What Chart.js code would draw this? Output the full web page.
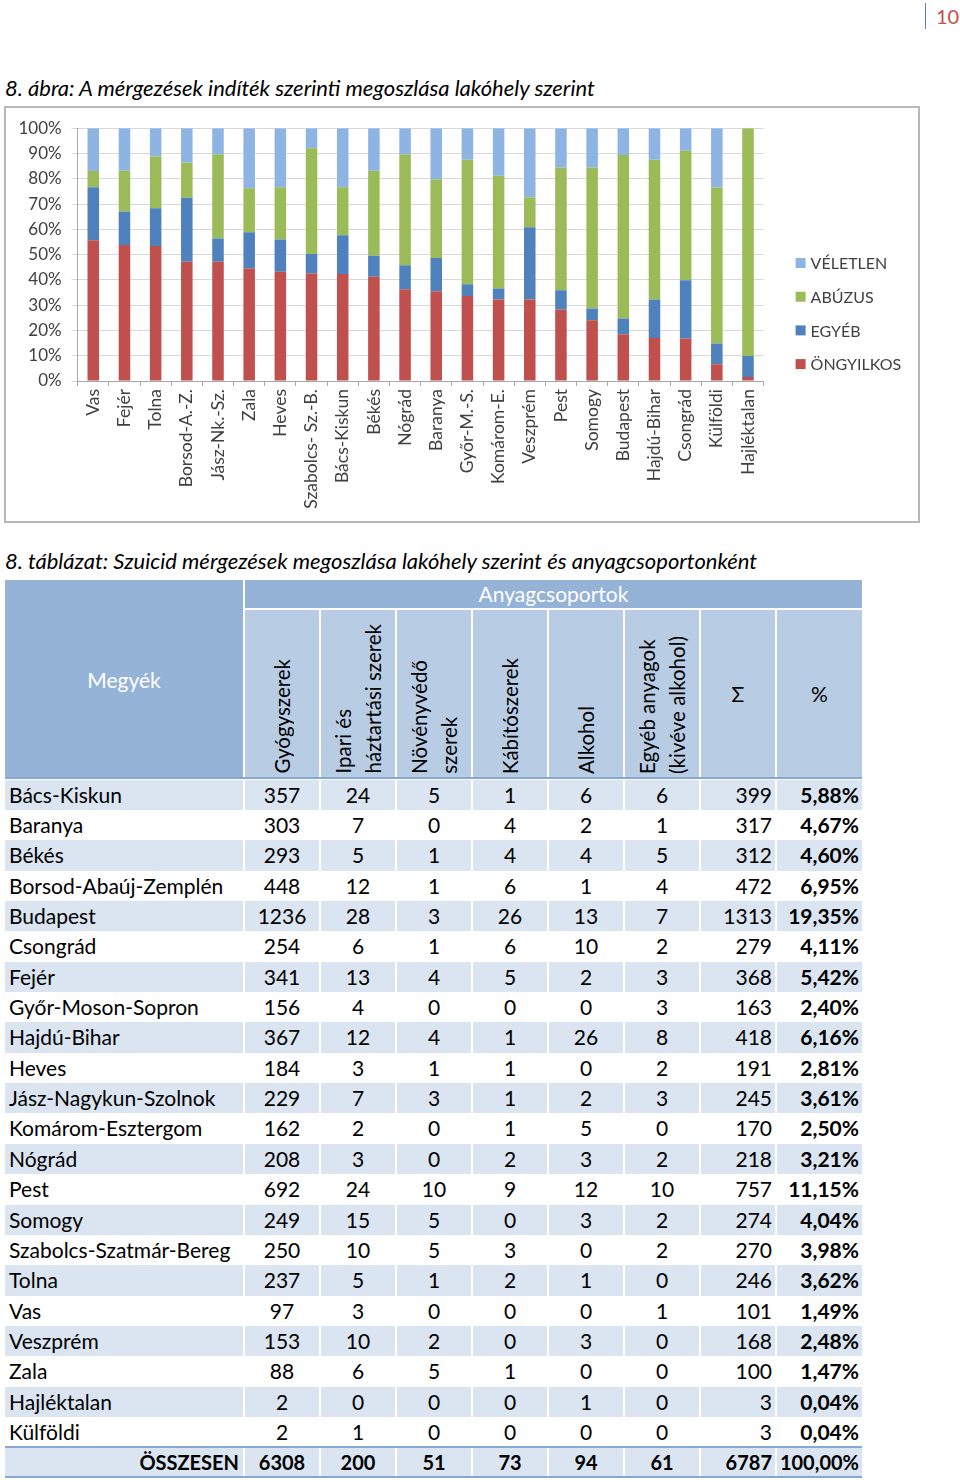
<!DOCTYPE html>
<html><head><meta charset="utf-8">
<script src="https://cdn.jsdelivr.net/npm/chart.js@4.4.1/dist/chart.umd.min.js"></script>
<style>
html,body{margin:0;padding:0;background:#fff;}
body{width:960px;height:1482px;position:relative;overflow:hidden;font-family:Lato,"Open Sans",sans-serif;color:#000;}
.abs{position:absolute;white-space:nowrap;}
#pnum{left:936px;top:3px;font-size:20px;color:#C0504D;line-height:26px;}
#pline{left:925px;top:3px;width:1px;height:26px;background:#4F81BD;}
.cap{left:5px;font-style:italic;font-size:22px;line-height:26px;}
#chartbox{left:4px;top:106px;width:916px;height:417px;border:2px solid #B8B8B8;box-sizing:border-box;}
#chartbox canvas{position:absolute;left:0;top:0;}
.cell{position:absolute;box-sizing:border-box;white-space:nowrap;font-size:21px;}
</style>
</head><body>
<div id="pline" class="abs"></div>
<div id="pnum" class="abs">10</div>
<div class="abs cap" style="top:75px;">8. ábra: A mérgezések indíték szerinti megoszlása lakóhely szerint</div>
<div id="chartbox" class="abs"><canvas id="c" width="912" height="413" style="width:912px;height:413px;"></canvas></div>
<div class="abs cap" style="top:548px;">8. táblázat: Szuicid mérgezések megoszlása lakóhely szerint és anyagcsoportonként</div>
<div id="tbl"></div>
<script>
// ---- chart data (percent shares) ----
const kategoriak = ['Vas','Fejér','Tolna','Borsod-A.-Z.','Jász-Nk.-Sz.','Zala','Heves','Szabolcs- Sz.-B.','Bács-Kiskun','Békés','Nógrád','Baranya','Győr-M.-S.','Komárom-E.','Veszprém','Pest','Somogy','Budapest','Hajdú-Bihar','Csongrád','Külföldi','Hajléktalan'];
const ongyilkos = [55.7,53.8,53.4,47.2,47.2,44.5,43.2,42.5,42.3,41.2,36.3,35.5,33.6,32.2,32.2,28.3,24.0,18.5,17.0,16.8,6.6,1.6];
const egyebInditek = [20.9,13.2,14.9,25.3,9.2,14.3,12.8,7.7,15.4,8.3,9.5,13.2,4.7,4.4,28.6,7.6,4.7,6.2,15.2,23.1,8.2,8.3];
const abuzus = [6.5,16.2,20.5,13.9,33.3,17.4,20.6,41.9,18.9,33.7,43.9,31.1,49.2,44.6,11.9,48.6,55.8,64.7,55.3,51.2,61.7,90.1];
const veletlen = [16.9,16.8,11.2,13.6,10.3,23.8,23.4,7.9,23.4,16.8,10.3,20.2,12.5,18.8,27.3,15.5,15.5,10.6,12.5,8.9,23.5,0];
const sorozatNevek = ['ÖNGYILKOS','EGYÉB','ABÚZUS','VÉLETLEN'];
const yTickLepes = 10;

// ---- table data ----
const megyek = ['Bács-Kiskun','Baranya','Békés','Borsod-Abaúj-Zemplén','Budapest','Csongrád','Fejér','Győr-Moson-Sopron','Hajdú-Bihar','Heves','Jász-Nagykun-Szolnok','Komárom-Esztergom','Nógrád','Pest','Somogy','Szabolcs-Szatmár-Bereg','Tolna','Vas','Veszprém','Zala','Hajléktalan','Külföldi'];
const gyogyszerek = [357,303,293,448,1236,254,341,156,367,184,229,162,208,692,249,250,237,97,153,88,2,2];
const ipari = [24,7,5,12,28,6,13,4,12,3,7,2,3,24,15,10,5,3,10,6,0,1];
const novenyvedo = [5,0,1,1,3,1,4,0,4,1,3,0,0,10,5,5,1,0,2,5,0,0];
const kabitoszerek = [1,4,4,6,26,6,5,0,1,1,1,1,2,9,0,3,2,0,0,1,0,0];
const alkohol = [6,2,4,1,13,10,2,0,26,0,2,5,3,12,3,0,1,0,3,0,1,0];
const egyebAnyagok = [6,1,5,4,7,2,3,3,8,2,3,0,2,10,2,2,0,1,0,0,0,0];
const osszeg = [399,317,312,472,1313,279,368,163,418,191,245,170,218,757,274,270,246,101,168,100,3,3];
const szazalek = ['5,88%','4,67%','4,60%','6,95%','19,35%','4,11%','5,42%','2,40%','6,16%','2,81%','3,61%','2,50%','3,21%','11,15%','4,04%','3,98%','3,62%','1,49%','2,48%','1,47%','0,04%','0,04%'];
const osszesenSor = ['6308','200','51','73','94','61','6787','100,00%'];
const fejlecek = [['Gyógyszerek'],['Ipari és','háztartási szerek'],['Növényvédő','szerek'],['Kábítószerek'],['Alkohol'],['Egyéb anyagok','(kivéve alkohol)']];

// ---- table build ----
const tbl = document.getElementById('tbl');
const colLefts = [5,245,321,397,473,549,625,701,777];
const tableRight = 862;
const colW = i => (i < colLefts.length-1 ? colLefts[i+1]-colLefts[i]-2 : tableRight-colLefts[i]);
function cell(left, top, w, h, bg, html, extra) {
  const d = document.createElement('div');
  d.className = 'cell';
  d.style.cssText = `left:${left}px;top:${top}px;width:${w}px;height:${h}px;background:${bg};line-height:${h}px;` + (extra||'');
  d.innerHTML = html;
  tbl.appendChild(d);
  return d;
}
const HDR = '#95B3D7', SUB = '#B8CCE4', ALT = '#DBE5F1', LINE = '#86A8D2';
cell(5, 580, 238, 198, HDR, 'Megyék', 'color:#fff;line-height:1;padding-top:89px;text-align:center;');
cell(245, 580, 617, 28, HDR, 'Anyagcsoportok', 'color:#fff;text-align:center;');
for (let i = 1; i <= 8; i++) {
  const c = cell(colLefts[i], 610, colW(i), 168, SUB, '', 'text-align:center;');
  if (i <= 6) {
    const lines = fejlecek[i-1];
    const inner = document.createElement('div');
    inner.style.cssText = `position:absolute;writing-mode:vertical-rl;transform:rotate(180deg);line-height:30px;font-size:20.5px;left:${(colW(i)-lines.length*30)/2}px;bottom:4px;white-space:nowrap;text-align:left;`;
    inner.innerHTML = lines.join('<br>');
    c.appendChild(inner);
  } else {
    c.textContent = i === 7 ? 'Σ' : '%';
  }
}
cell(5, 777, 857, 2, LINE, '');
const rowH = 30.36;
const cols = [gyogyszerek, ipari, novenyvedo, kabitoszerek, alkohol, egyebAnyagok];
megyek.forEach((m, r) => {
  const top = 779.5 + r*rowH;
  const bg = r % 2 === 0 ? ALT : '#fff';
  cell(5, top, 238, rowH, bg, m, 'padding-left:4px;');
  cols.forEach((arr, k) => cell(colLefts[k+1], top, colW(k+1), rowH, bg, String(arr[r]), 'text-align:center;'));
  cell(colLefts[7], top, colW(7), rowH, bg, String(osszeg[r]), 'text-align:right;padding-right:3px;');
  cell(colLefts[8], top, colW(8), rowH, bg, szazalek[r], 'text-align:right;padding-right:3px;font-weight:bold;');
});
const tTop = 779 + 22*rowH;
cell(5, tTop-1, 857, 2, LINE, '');
cell(5, tTop+1, 238, 28, ALT, 'ÖSSZESEN', 'text-align:right;padding-right:4px;font-weight:bold;font-size:20px;');
osszesenSor.forEach((v, k) => {
  const i = k+1;
  const al = i <= 6 ? 'text-align:center;' : 'text-align:right;padding-right:3px;';
  cell(colLefts[i], tTop+1, colW(i), 28, ALT, v, al + 'font-weight:bold;font-size:20px;');
});
cell(5, tTop+29, 857, 2, LINE, '');

// ---- chart ----
const FONT = 'Lato';
const TXT = '#404040';
const sideLegend = {
  id: 'sideLegend',
  afterDraw(chart) {
    const ctx = chart.ctx;
    const dss = chart.data.datasets.slice().reverse();
    const x0 = chart.chartArea.right + 32;
    const y0 = 155, step = 33.7;
    ctx.save();
    ctx.font = `16px ${FONT}`;
    ctx.textBaseline = 'middle';
    dss.forEach((ds, i) => {
      const y = y0 + i*step;
      ctx.fillStyle = ds.backgroundColor;
      ctx.fillRect(x0, y-5, 10, 10);
      ctx.fillStyle = TXT;
      ctx.fillText(ds.label, x0 + 15, y + 1);
    });
    ctx.restore();
  }
};
function build() {
  new Chart(document.getElementById('c'), {
    type: 'bar',
    data: {
      labels: kategoriak,
      datasets: [
        {label: sorozatNevek[0], data: ongyilkos, backgroundColor: '#C0504D'},
        {label: sorozatNevek[1], data: egyebInditek, backgroundColor: '#4F81BD'},
        {label: sorozatNevek[2], data: abuzus, backgroundColor: '#9BBB59'},
        {label: sorozatNevek[3], data: veletlen, backgroundColor: '#8EB4E3'}
      ]
    },
    options: {
      responsive: false,
      animation: false,
      layout: {padding: {top: 20, left: 0, right: 154.4, bottom: 0}},
      datasets: {bar: {barPercentage: 0.37, categoryPercentage: 1}},
      plugins: {legend: {display: false}, tooltip: {enabled: false}},
      scales: {
        x: {
          stacked: true,
          grid: {display: true, drawOnChartArea: false, drawTicks: true, tickLength: 5, color: '#A6A6A6', offset: true},
          border: {color: '#A6A6A6'},
          ticks: {minRotation: 90, maxRotation: 90, autoSkip: false, font: {family: FONT, size: 17.5}, color: TXT, padding: 3},
          afterFit(s) { s.height = 140; }
        },
        y: {
          stacked: true, min: 0, max: 100,
          ticks: {stepSize: yTickLepes, callback: v => v + '%', font: {family: FONT, size: 17}, color: TXT, padding: 10},
          grid: {color: '#D9D9D9', tickLength: 6},
          border: {color: '#A6A6A6'},
          afterFit(s) { s.width = 71.7; }
        }
      }
    },
    plugins: [sideLegend]
  });
}
if (document.fonts && document.fonts.load) {
  document.fonts.load('15px Lato').then(build, build);
} else build();
</script>
</body></html>
